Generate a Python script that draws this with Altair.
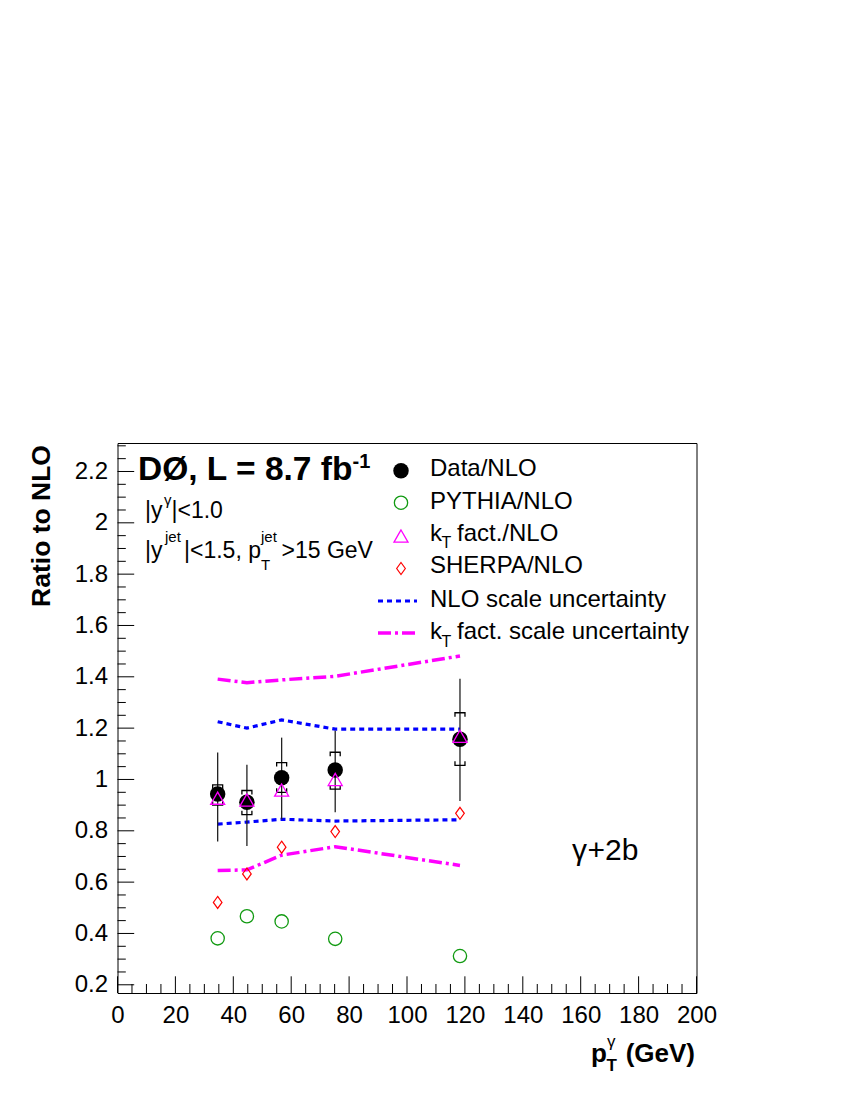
import altair as alt
import pandas as pd

FONT = "Liberation Sans"

# ---- data ----
pt = [34.6, 44.7, 56.7, 75.2, 118.3]
data_ratio = [0.943, 0.911, 1.007, 1.037, 1.157]
stat_lo = [0.758, 0.741, 0.845, 0.872, 0.916]
stat_hi = [1.105, 1.057, 1.163, 1.190, 1.392]
sys_lo = [0.900, 0.863, 0.950, 0.962, 1.055]
sys_hi = [0.979, 0.957, 1.066, 1.106, 1.260]
kt_ratio = [0.927, 0.920, 0.959, 1.000, 1.168]
pythia_ratio = [0.381, 0.467, 0.447, 0.379, 0.312]
sherpa_ratio = [0.521, 0.632, 0.736, 0.797, 0.868]
nlo_up = [1.225, 1.200, 1.232, 1.196, 1.196]
nlo_dn = [0.826, 0.834, 0.845, 0.838, 0.843]
kt_up = [1.391, 1.377, 1.388, 1.402, 1.481]
kt_dn = [0.645, 0.648, 0.705, 0.738, 0.665]

x_major = [0, 20, 40, 60, 80, 100, 120, 140, 160, 180, 200]
x_minor = [v for v in range(0, 201, 5) if v % 20]
y_major = [0.2, 0.4, 0.6, 0.8, 1.0, 1.2, 1.4, 1.6, 1.8, 2.0, 2.2]
y_minor = [round(0.2 + 0.05 * i, 2) for i in range(0, 43) if i % 4]

W, H = 579, 550

xs = alt.Scale(domain=[0, 200], nice=False, zero=False)
ys = alt.Scale(domain=[0.168, 2.311], nice=False, zero=False)
xaxis = alt.Axis(values=x_major, ticks=False, domain=False, grid=False, labelPadding=10,
                 title=None, labelFontSize=24, labelFont=FONT, labelColor="black",
                 labelFlush=False, labelOverlap=False)
yaxis = alt.Axis(values=y_major, ticks=False, domain=False, grid=False, labelPadding=10,
                 title=None, labelFontSize=24, labelFont=FONT, labelColor="black",
                 labelExpr="format(datum.value, '~g')", labelFlush=False, labelOverlap=False)


def X(f):
    return alt.X(f, scale=xs, axis=xaxis)


def Y(f):
    return alt.Y(f, scale=ys, axis=yaxis)


pts = pd.DataFrame({
    "pt": pt, "data": data_ratio, "stat_lo": stat_lo, "stat_hi": stat_hi,
    "sys_lo": sys_lo, "sys_hi": sys_hi, "kt": kt_ratio,
    "pythia": pythia_ratio, "sherpa": sherpa_ratio,
})
nlo_df = pd.DataFrame({"pt": pt * 2, "val": nlo_up + nlo_dn, "band": ["up"] * 5 + ["dn"] * 5})
kt_df = pd.DataFrame({"pt": pt * 2, "val": kt_up + kt_dn, "band": ["up"] * 5 + ["dn"] * 5})
one = pd.DataFrame({"a": [0]})

BLUE = "#0000ff"
MAG = "#ff00ff"
RED = "#ff0000"
GREEN = "#119a11"
DIAMOND = "M0,-1L0.72,0L0,1L-0.72,0Z"
BR_TOP = "M-1,0.8L-1,0L1,0L1,0.8"
BR_BOT = "M-1,-0.8L-1,0L1,0L1,-0.8"

layers = []

# axis ticks (inside the frame)
layers.append(alt.Chart(pd.DataFrame({"v": x_major})).mark_rule(color="black", strokeWidth=1)
              .encode(x=X("v:Q"), y=alt.value(H), y2=alt.value(H - 16.7)))
layers.append(alt.Chart(pd.DataFrame({"v": x_minor})).mark_rule(color="black", strokeWidth=1)
              .encode(x=X("v:Q"), y=alt.value(H), y2=alt.value(H - 9)))
layers.append(alt.Chart(pd.DataFrame({"v": y_major})).mark_rule(color="black", strokeWidth=1)
              .encode(y=Y("v:Q"), x=alt.value(0), x2=alt.value(16.7)))
layers.append(alt.Chart(pd.DataFrame({"v": y_minor})).mark_rule(color="black", strokeWidth=1)
              .encode(y=Y("v:Q"), x=alt.value(0), x2=alt.value(8.3)))

# uncertainty bands
layers.append(alt.Chart(nlo_df).mark_line(color=BLUE, strokeWidth=3.2, strokeDash=[5, 4], strokeCap="butt")
              .encode(x=X("pt:Q"), y=Y("val:Q"), detail="band:N"))
layers.append(alt.Chart(kt_df).mark_line(color=MAG, strokeWidth=3.5, strokeDash=[13, 4, 3, 4], strokeCap="butt")
              .encode(x=X("pt:Q"), y=Y("val:Q"), detail="band:N"))

# data errors
layers.append(alt.Chart(pts).mark_rule(color="#222222", strokeWidth=1.3)
              .encode(x=X("pt:Q"), y=Y("stat_lo:Q"), y2="stat_hi:Q"))
layers.append(alt.Chart(pts).mark_point(shape=BR_TOP, size=100, filled=False, color="black",
                                        strokeWidth=1.3, opacity=1)
              .encode(x=X("pt:Q"), y=Y("sys_hi:Q")))
layers.append(alt.Chart(pts).mark_point(shape=BR_BOT, size=100, filled=False, color="black",
                                        strokeWidth=1.3, opacity=1)
              .encode(x=X("pt:Q"), y=Y("sys_lo:Q")))

# markers
layers.append(alt.Chart(pts).mark_point(shape="circle", filled=True, size=240, color="black", opacity=1)
              .encode(x=X("pt:Q"), y=Y("data:Q")))
layers.append(alt.Chart(pts).mark_point(shape="triangle-up", filled=False, size=196, color=MAG,
                                        strokeWidth=1.3, opacity=1)
              .encode(x=X("pt:Q"), y=Y("kt:Q")))
layers.append(alt.Chart(pts).mark_point(shape=DIAMOND, filled=False, size=144, color=RED,
                                        strokeWidth=1.2, opacity=1)
              .encode(x=X("pt:Q"), y=Y("sherpa:Q")))
layers.append(alt.Chart(pts).mark_point(shape="circle", filled=False, size=177, color=GREEN,
                                        strokeWidth=1.3, opacity=1)
              .encode(x=X("pt:Q"), y=Y("pythia:Q")))


# ---- legend (manual, ROOT style) ----
def sym(shape, x, y, size, color, filled, sw=1.3):
    return alt.Chart(one).mark_point(shape=shape, filled=filled, size=size, color=color,
                                     strokeWidth=sw, opacity=1).encode(x=alt.value(x), y=alt.value(y))


def txt(s, x, y, size, bold=False, align="left", angle=0):
    return alt.Chart(one).mark_text(text=s, font=FONT, fontSize=size,
                                    fontWeight="bold" if bold else "normal",
                                    align=align, baseline="alphabetic", angle=angle,
                                    color="black").encode(x=alt.value(x), y=alt.value(y))


LX = 283.5
layers.append(sym("circle", LX, 27.7, 240, "black", True))
layers.append(sym("circle", LX, 59.7, 177, GREEN, False))
layers.append(sym("triangle-up", LX, 93.0, 196, MAG, False))
layers.append(sym(DIAMOND, LX, 125.5, 144, RED, False, 1.2))
layers.append(alt.Chart(one).mark_rule(color=BLUE, strokeWidth=3.2, strokeDash=[5, 4])
              .encode(x=alt.value(260.5), x2=alt.value(299.5), y=alt.value(158)))
layers.append(alt.Chart(one).mark_rule(color=MAG, strokeWidth=3.5, strokeDash=[13, 4, 3, 4])
              .encode(x=alt.value(260.5), x2=alt.value(299.5), y=alt.value(190)))

TX = 312.5
layers.append(txt("Data/NLO", TX, 33, 24))
layers.append(txt("PYTHIA/NLO", TX, 65.5, 24))
layers.append(txt("k", TX, 97.5, 24))
layers.append(txt("T", TX + 11.5, 105, 16))
layers.append(txt("fact./NLO", TX + 27, 97.5, 24))
layers.append(txt("SHERPA/NLO", TX, 130, 24))
layers.append(txt("NLO scale uncertainty", TX, 163.5, 24))
layers.append(txt("k", TX, 196, 24))
layers.append(txt("T", TX + 11.5, 203.5, 16))
layers.append(txt("fact. scale uncertainty", TX + 27, 196, 24))

# ---- annotations ----
layers.append(txt("DØ, L = 8.7 fb", 20.5, 37, 33.5, bold=True))
layers.append(txt("-1", 235, 25, 20, bold=True))

layers.append(txt("|y", 27.5, 75, 23))
layers.append(txt("γ", 46.5, 62, 15))
layers.append(txt("|<1.0", 54, 75, 23))

layers.append(txt("|y", 27.5, 115, 23))
layers.append(txt("jet", 47.5, 98.5, 15))
layers.append(txt("|<1.5, p", 66.5, 115, 23))
layers.append(txt("jet", 143.5, 98.5, 15))
layers.append(txt("T", 143.5, 127, 15))
layers.append(txt(">15 GeV", 164, 115, 23))

layers.append(txt("γ", 454.5, 417, 30))
layers.append(txt("+2b", 470, 417, 30))

# axis titles
layers.append(txt("Ratio to NLO", -67.5, 2, 26.5, bold=True, align="right", angle=270))
layers.append(txt("(GeV)", 577.5, 619, 26, bold=True, align="right"))
layers.append(txt("p", 473.5, 619, 26, bold=True))
layers.append(txt("T", 489, 628, 17, bold=True))
layers.append(txt("γ", 489.5, 604, 17))

chart = alt.layer(*layers).properties(
    width=W, height=H,
    padding={"left": 109.5, "top": 435, "right": 140, "bottom": 100},
    autosize=alt.AutoSizeParams(type="none"),
    background="white",
).configure_view(stroke="black", strokeWidth=1)

chart.save("out.html", embed_options={"renderer": "svg", "actions": False})
